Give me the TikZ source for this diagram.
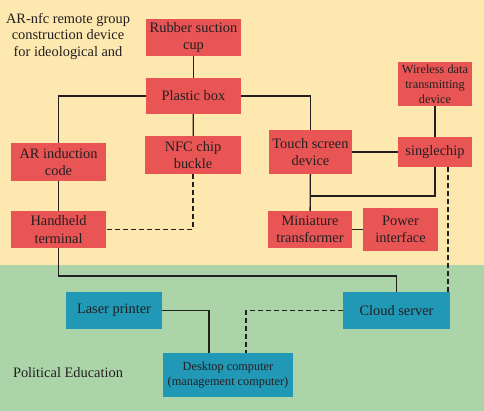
\documentclass[tikz,border=0pt]{standalone}
\usepackage{fontspec}
\setmainfont{Liberation Serif}
\definecolor{bgyellow}{HTML}{FDE8B0}
\definecolor{bggreen}{HTML}{ABD5A8}
\definecolor{nodered}{HTML}{E95555}
\definecolor{nodeblue}{HTML}{2198B5}
\definecolor{textc}{HTML}{231F20}
\begin{document}
\begin{tikzpicture}[x=1pt,y=-1pt,
  redbox/.style={fill=nodered, draw=none, inner sep=0pt, align=center, text=textc, font=\fontsize{14.4}{17.5}\selectfont},
  bluebox/.style={fill=nodeblue, draw=none, inner sep=0pt, align=center, text=textc, font=\fontsize{14.4}{17.5}\selectfont},
  small/.style={font=\fontsize{12.3}{15}\selectfont},
  conn/.style={line width=1.3pt, draw=textc},
  dconn/.style={conn, dash pattern=on 5pt off 3pt},
  lbl/.style={align=center, text=textc, inner sep=0pt, font=\fontsize{14.4}{16.5}\selectfont}]
\fill[bgyellow] (0,0) rectangle (484,265);
\fill[bggreen] (0,265) rectangle (484,411);
\useasboundingbox (0,0) rectangle (484,411);

\node[lbl] (title) at (68,36) {AR-nfc remote group\\construction device\\for ideological and};
\node[lbl] (pol) at (68,373) {Political Education};

\node[redbox, minimum width=95pt, minimum height=37pt] (rubber) at (193.5,37.5) {Rubber suction\\cup};
\node[redbox, minimum width=95pt, minimum height=36pt] (plastic) at (193.5,96) {Plastic box};
\node[redbox, minimum width=96pt, minimum height=38pt] (nfc) at (193,155) {NFC chip\\buckle};
\node[redbox, minimum width=95pt, minimum height=38pt] (ar) at (58.5,162) {AR induction\\code};
\node[redbox, minimum width=95pt, minimum height=37pt] (hand) at (58.5,229.5) {Handheld\\terminal};
\node[redbox, minimum width=83pt, minimum height=44pt] (touch) at (310.5,152) {Touch screen\\device};
\node[redbox, minimum width=74pt, minimum height=30pt] (single) at (435,152) {singlechip};
\node[redbox, small, minimum width=74pt, minimum height=44pt] (wireless) at (435,84) {Wireless data\\transmitting\\device};
\node[redbox, minimum width=84pt, minimum height=37pt] (mini) at (310,229.5) {Miniature\\transformer};
\node[redbox, minimum width=75pt, minimum height=43pt] (power) at (400.5,229.5) {Power\\interface};
\node[bluebox, minimum width=96pt, minimum height=37pt] (laser) at (114,310.5) {Laser printer};
\node[bluebox, minimum width=107pt, minimum height=37pt] (cloud) at (396.5,310.5) {Cloud server};
\node[bluebox, small, minimum width=130pt, minimum height=44pt] (desk) at (228,375) {Desktop computer\\(management computer)};

\coordinate (j1) at (58.5,276);
\coordinate (j2) at (310.5,196);

\draw[conn] (rubber) -- (plastic);
\draw[conn] (plastic.west) -| (ar.north);
\draw[conn] (ar) -- (hand);
\draw[conn] (hand.south) -- (j1) -| (cloud.north);
\draw[conn] (plastic.east) -| (touch.north);
\draw[conn] (plastic) -- (nfc);
\draw[dconn] (nfc.south) |- (hand.east);
\draw[conn] (touch) -- (single);
\draw[conn] (wireless) -- (single);
\draw[conn] (touch) -- (mini);
\draw[conn] (single.south) |- (j2);
\draw[conn] (mini) -- (power);
\draw[dconn] ([xshift=13pt]single.south) -- ([xshift=13pt]single.south |- cloud.north);
\draw[conn] (laser.east) -| ([xshift=-19pt]desk.north);
\draw[dconn] (cloud.west) -| ([xshift=18pt]desk.north);
\end{tikzpicture}
\end{document}
